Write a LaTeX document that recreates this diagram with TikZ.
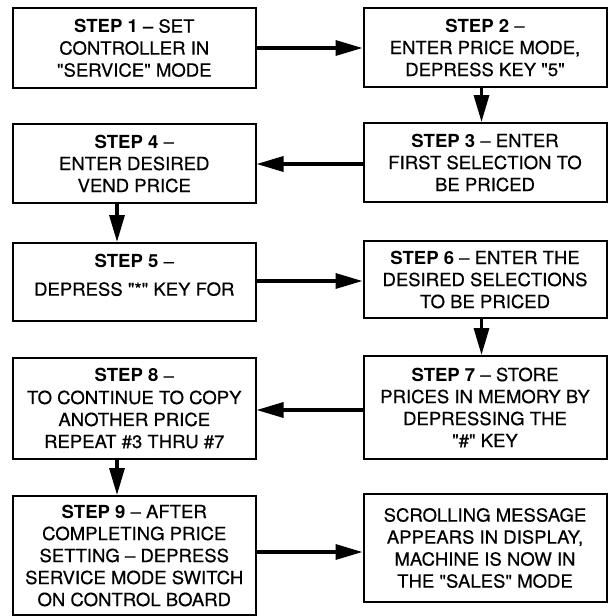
\documentclass[tikz,border=0pt]{standalone}
\usepackage{fontspec}
\newfontfamily\hv{TeX Gyre Heros}[FakeStretch=1.03, UprightFeatures={FakeBold=0.5}]
\usetikzlibrary{arrows.meta}
\begin{document}
\begin{tikzpicture}[x=1pt,y=-1pt,
  box/.style={draw, line width=2pt, inner sep=0pt, align=center,
    font=\hv\fontsize{18}{22}\selectfont},
  lbox/.style={box, minimum width=242.5pt},
  rbox/.style={box, minimum width=243pt},
  arr/.style={line width=3.3pt, -{Triangle[length=27pt,width=15pt]}}]
\fill[white] (0,0) rectangle (611,616);
\useasboundingbox (0,0) rectangle (611,616);

\node[lbox, minimum height=80pt] (b1) at (134.25,48)
  {\textbf{STEP 1} – SET\\CONTROLLER IN\\"SERVICE" MODE};
\node[rbox, minimum height=79pt] (b2) at (485,47.5)
  {\textbf{STEP 2} –\\ENTER PRICE MODE,\\DEPRESS KEY "5"};
\node[rbox, minimum height=79pt] (b3) at (485,162.5)
  {\textbf{STEP 3} – ENTER\\FIRST SELECTION TO\\BE PRICED};
\node[lbox, minimum height=79pt] (b4) at (134.25,163.5)
  {\textbf{STEP 4} –\\ENTER DESIRED\\VEND PRICE};
\node[lbox, minimum height=78pt] (b5) at (134.25,282)
  {\textbf{STEP 5} –\\[6pt]DEPRESS "*" KEY FOR\\[-8pt]\mbox{}};
\node[rbox, minimum height=77pt] (b6) at (485,279.5)
  {\textbf{STEP 6} – ENTER THE\\DESIRED SELECTIONS\\TO BE PRICED};
\node[rbox, minimum height=103pt] (b7) at (485,407.5)
  {\textbf{STEP 7} – STORE\\PRICES IN MEMORY BY\\DEPRESSING THE\\"\#" KEY};
\node[lbox, minimum height=101pt] (b8) at (134.25,408.5)
  {\textbf{STEP 8} –\\TO CONTINUE TO COPY\\ANOTHER PRICE\\REPEAT \#3 THRU \#7};
\node[lbox, minimum height=119pt] (b9) at (134.25,555.5)
  {\textbf{STEP 9} – AFTER\\COMPLETING PRICE\\SETTING – DEPRESS\\SERVICE MODE SWITCH\\ON CONTROL BOARD};
\node[rbox, minimum height=108pt] (b10) at (485,548)
  {SCROLLING MESSAGE\\APPEARS IN DISPLAY,\\MACHINE IS NOW IN\\THE "SALES" MODE};

\draw[arr] (b1.east) -- (b1.east -| b2.west);
\draw[arr] ([xshift=-3.5pt]b2.south) -- ([xshift=-3.5pt]b2.south |- b3.north);
\draw[arr] ([yshift=-1.5pt]b3.west) -- ([yshift=-1.5pt]b3.west -| b4.east);
\draw[arr] ([xshift=-17.25pt]b4.south) -- ([xshift=-17.25pt]b4.south |- b5.north);
\draw[arr] ([yshift=1pt]b5.east) -- ([yshift=1pt]b5.east -| b6.west);
\draw[arr] ([xshift=-3.5pt]b6.south) -- ([xshift=-3.5pt]b6.south |- b7.north);
\draw[arr] ([yshift=-2.5pt]b7.west) -- ([yshift=-2.5pt]b7.west -| b8.east);
\draw[arr] ([xshift=-17.25pt]b8.south) -- ([xshift=-17.25pt]b8.south |- b9.north);
\draw[arr] ([yshift=3.5pt]b9.east) -- ([yshift=3.5pt]b9.east -| b10.west);
\end{tikzpicture}
\end{document}
